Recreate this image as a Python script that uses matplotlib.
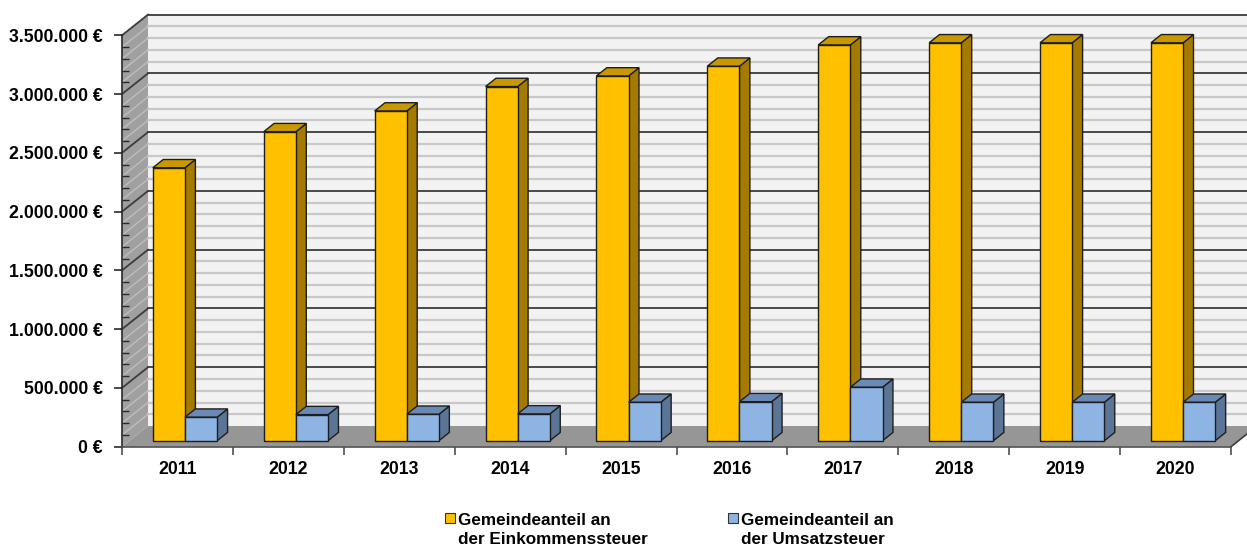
import numpy as np
import matplotlib.pyplot as plt
from matplotlib.patches import Polygon, Rectangle
from matplotlib.ticker import FixedLocator, FuncFormatter

plt.rcParams['font.family'] = ['Liberation Sans', 'DejaVu Sans']
plt.rcParams['font.weight'] = 'bold'

# data
years = ["2011", "2012", "2013", "2014", "2015", "2016", "2017", "2018", "2019", "2020"]
einkommensteuer = [2322000, 2629000, 2805000, 3013000, 3103000, 3186000,
                   3367000, 3385000, 3385000, 3385000]
umsatzsteuer = [200000, 222000, 225000, 228000, 327000, 332000,
                455000, 327000, 327000, 327000]
series_labels = ["Gemeindeanteil an\nder Einkommenssteuer",
                 "Gemeindeanteil an\nder Umsatzsteuer"]

Y_MAX = 3500000
Y_MAJOR = 500000
Y_MINOR = 100000

W, H = 1247, 547

# pseudo 3d box settings
DX, DY = 0.2345, 176000       # depth shift of the back wall (x in categories, y in values)
GAP = 0.21                    # space left/right of the cluster, fraction of category
BAR_W = (1 - 2 * GAP) / 2
Z_FRONT, Z_DEPTH = 0.29, 0.40  # bar front position and depth as fraction of box depth

YELLOW = dict(front='#FFC000', top='#C99700', side='#A47A00')
BLUE = dict(front='#8DB4E2', top='#6A8AB5', side='#5B7596')
EDGE = '#1E1E1E'

BACK_WALL = '#F2F2F2'
SIDE_WALL = '#A0A0A0'
FLOOR = '#969696'
GRID_MINOR = '#C8C8C8'
GRID_MAJOR = '#3C3C3C'

FONTSIZE = 12.7


def draw_bar(ax, x0, value, colors, z):
    sx, sy = Z_FRONT * DX, Z_FRONT * DY
    ddx, ddy = Z_DEPTH * DX, Z_DEPTH * DY
    x0 = x0 + sx
    x1 = x0 + BAR_W
    front = [(x0, sy), (x1, sy), (x1, value + sy), (x0, value + sy)]
    top = [(x0, value + sy), (x1, value + sy),
           (x1 + ddx, value + sy + ddy), (x0 + ddx, value + sy + ddy)]
    side = [(x1, sy), (x1 + ddx, sy + ddy), (x1 + ddx, value + sy + ddy), (x1, value + sy)]
    for pts, key in [(side, 'side'), (top, 'top'), (front, 'front')]:
        ax.add_patch(Polygon(pts, closed=True, fc=colors[key], ec=EDGE, lw=1.0,
                             zorder=z, clip_on=False))


fig = plt.figure(figsize=(W / 100, H / 100), dpi=100)
ax = fig.add_axes([122 / W, 100.3 / H, 1109 / W, 411.4 / H])
ax.set_xlim(0, len(years))
ax.set_ylim(0, Y_MAX)
ax.patch.set_visible(False)

n = len(years)

# walls and floor
ax.add_patch(Polygon([(DX, DY), (n + DX, DY), (n + DX, Y_MAX + DY), (DX, Y_MAX + DY)],
                     closed=True, fc=BACK_WALL, ec='none', zorder=0, clip_on=False))
ax.add_patch(Polygon([(0, 0), (DX, DY), (DX, Y_MAX + DY), (0, Y_MAX)],
                     closed=True, fc=SIDE_WALL, ec='none', zorder=0, clip_on=False))
ax.add_patch(Polygon([(0, 0), (DX, DY), (n + DX, DY), (n, 0)],
                     closed=True, fc=FLOOR, ec='none', zorder=1, clip_on=False))
ax.plot([n, n + DX], [0, DY], color=GRID_MAJOR, lw=1.2, zorder=1, clip_on=False)

# gridlines on back and side wall
for v in np.arange(Y_MINOR, Y_MAX + 1, Y_MINOR):
    if v % Y_MAJOR == 0:
        ax.plot([DX, n + DX], [v + DY, v + DY], color=GRID_MAJOR, lw=1.3,
                zorder=0.6, clip_on=False)
        ax.plot([0, DX], [v, v + DY], color=GRID_MAJOR, lw=1.3,
                zorder=0.6, clip_on=False)
    else:
        ax.plot([DX, n + DX], [v + DY, v + DY], color=GRID_MINOR, lw=1.6,
                zorder=0.5, clip_on=False)
        ax.plot([0, DX], [v, v + DY], color='#BEBEBE', lw=1.0,
                zorder=0.5, clip_on=False)

# bars
for i in range(n):
    draw_bar(ax, i + GAP, einkommensteuer[i], YELLOW, 3 + 2 * i)
    draw_bar(ax, i + GAP + BAR_W, umsatzsteuer[i], BLUE, 4 + 2 * i)

# axes styling
for s in ['top', 'right']:
    ax.spines[s].set_visible(False)
ax.spines['left'].set_color('#2A2A2A')
ax.spines['bottom'].set_color('#505050')
ax.spines['left'].set_linewidth(1.2)
ax.spines['bottom'].set_linewidth(1.2)

ax.yaxis.set_major_locator(FixedLocator(np.arange(0, Y_MAX + 1, Y_MAJOR)))
ax.yaxis.set_minor_locator(FixedLocator(np.arange(0, Y_MAX + 1, Y_MINOR)))
ax.yaxis.set_major_formatter(FuncFormatter(
    lambda v, p: f"{v:,.0f} €".replace(",", ".")))
ax.tick_params(axis='y', which='major', direction='out', length=6, width=1.2,
               color='#2A2A2A', pad=8, labelsize=FONTSIZE)
ax.tick_params(axis='y', which='minor', direction='in', length=5, width=1.0,
               color='#2A2A2A')

ax.xaxis.set_major_locator(FixedLocator(np.arange(0, n + 1)))
ax.xaxis.set_minor_locator(FixedLocator(np.arange(n) + 0.5))
ax.xaxis.set_major_formatter(FuncFormatter(lambda v, p: ""))
ax.xaxis.set_minor_formatter(FuncFormatter(lambda v, p: years[int(v)]))
ax.tick_params(axis='x', which='major', direction='out', length=6, width=1.2,
               color='#505050')
ax.tick_params(axis='x', which='minor', length=0, pad=10, labelsize=FONTSIZE)

# legend (square aligned with the first label line, as in the original)
legend_x = [445, 728]
for lx, label, colors in zip(legend_x, series_labels, [YELLOW, BLUE]):
    fig.add_artist(Rectangle((lx / W, 1 - 522.5 / H), 10 / W, 9.5 / H,
                             transform=fig.transFigure, fc=colors['front'],
                             ec='#333333', lw=0.8))
    # baseline alignment of a multi-line text uses the last line
    fig.text((lx + 13) / W, 1 - 544.3 / H, label, ha='left', va='baseline',
             fontsize=12.3, fontweight='bold', linespacing=1.38)

fig.savefig("out.png", dpi=100)
